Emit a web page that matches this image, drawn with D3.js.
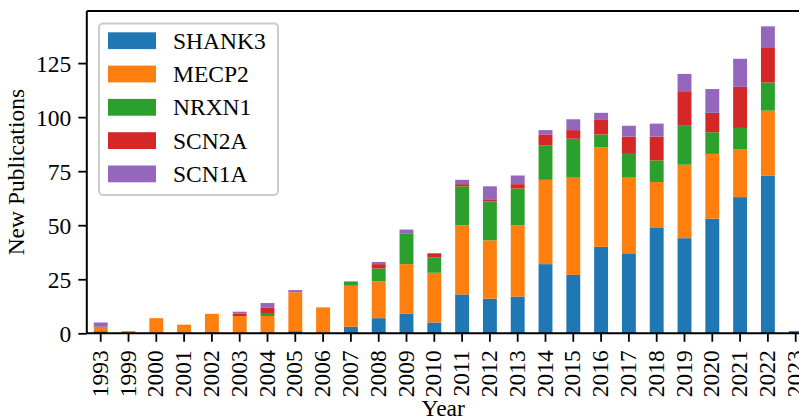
<!DOCTYPE html>
<html>
<head>
<meta charset="utf-8">
<script src="https://cdn.jsdelivr.net/npm/d3@7"></script>
<style>
  html, body { margin: 0; padding: 0; background: #ffffff; }
  svg { display: block; }
  text { font-family: "Liberation Serif", "DejaVu Serif", serif; fill: #000; }
</style>
</head>
<body>
<svg id="chart" width="799" height="419"></svg>
<script>
// Publications per year, stacked by gene
const years = ["1993","1999","2000","2001","2002","2003","2004","2005","2006","2007","2008","2009","2010",
               "2011","2012","2013","2014","2015","2016","2017","2018","2019","2020","2021","2022","2023"];
const genes = ["SHANK3", "MECP2", "NRXN1", "SCN2A", "SCN1A"];
const shank3 = [1,0,0,0,0,0,0,1,0,3,7,9,5,18,16,17,32,27,40,37,49,44,53,63,73,1];
const mecp2  = [2,1,7,4,9,8,8,18,12,19,17,23,23,32,27,33,39,45,46,35,21,34,30,22,30,0];
const nrxn1  = [0,0,0,0,0,0,1,0,0,2,6,14,7,18,18,17,16,18,6,11,10,18,10,10,13,0];
const scn2a  = [0,0,0,0,0,1,3,0,0,0,2,0,2,1,1,2,5,4,7,8,11,16,9,19,16,0];
const scn1a  = [2,0,0,0,0,1,2,1,0,0,1,2,0,2,6,4,2,5,3,5,6,8,11,13,10,0];
const yTicks = [0, 25, 50, 75, 100, 125];
const colors = ["#1f77b4", "#ff7f0e", "#2ca02c", "#d62728", "#9467bd"];

const seriesValues = [shank3, mecp2, nrxn1, scn2a, scn1a];
const rows = years.map((yr, i) => {
  const r = { year: yr };
  genes.forEach((g, k) => { r[g] = seriesValues[k][i]; });
  return r;
});

const svg = d3.select("#chart");
const plotLeft = 86.8, plotRight = 809.6, plotTop = 11, plotBottom = 333.3;
const fontSize = 23.5;

const totals = rows.map(r => d3.sum(genes, g => r[g]));
const yMax = d3.max(totals) * 1.05;

const x = d3.scaleBand().domain(years).range([plotLeft, plotRight])
  .paddingInner(0.5).paddingOuter(0.25);
const y = d3.scaleLinear().domain([0, yMax]).range([plotBottom, plotTop]);
const color = d3.scaleOrdinal().domain(genes).range(colors);

const stacked = d3.stack().keys(genes)(rows);

// Stacked bars
svg.append("g").selectAll("g")
  .data(stacked)
  .join("g")
  .attr("fill", d => color(d.key))
  .selectAll("rect")
  .data(d => d)
  .join("rect")
  .attr("x", d => x(d.data.year))
  .attr("width", x.bandwidth())
  .attr("y", d => y(d[1]))
  .attr("height", d => Math.max(0, y(d[0]) - y(d[1])));

// Axes
const xAxis = d3.axisBottom(x).tickSizeOuter(0).tickSize(8.5).tickPadding(0);
const gx = svg.append("g").attr("transform", `translate(0,${plotBottom})`).call(xAxis);
gx.select(".domain").remove();
gx.selectAll(".tick line").attr("stroke", "#000").attr("stroke-width", 1.8);
gx.selectAll(".tick text")
  .attr("font-size", fontSize)
  .attr("font-family", "Liberation Serif, DejaVu Serif, serif")
  .attr("text-anchor", "end")
  .attr("dy", null)
  .attr("x", 0).attr("y", 0)
  .attr("transform", "translate(7,17) rotate(-90)");

const yAxis = d3.axisLeft(y).tickValues(yTicks).tickSize(8.5).tickPadding(7);
const gy = svg.append("g").attr("transform", `translate(${plotLeft},0)`).call(yAxis);
gy.select(".domain").remove();
gy.selectAll(".tick line").attr("stroke", "#000").attr("stroke-width", 1.8);
gy.selectAll(".tick text")
  .attr("font-size", fontSize)
  .attr("font-family", "Liberation Serif, DejaVu Serif, serif")
  .attr("dy", "0.34em");

// Frame (spines)
const spine = svg.append("g").attr("stroke", "#000").attr("stroke-width", 2).attr("fill", "none");
spine.append("line").attr("x1", plotLeft).attr("x2", plotLeft).attr("y1", plotTop).attr("y2", plotBottom);
spine.append("line").attr("x1", plotLeft).attr("x2", plotRight).attr("y1", plotBottom).attr("y2", plotBottom);
spine.append("line").attr("x1", plotLeft).attr("x2", plotRight).attr("y1", plotTop).attr("y2", plotTop);
spine.append("line").attr("x1", plotRight).attr("x2", plotRight).attr("y1", plotTop).attr("y2", plotBottom);

// Axis titles
svg.append("text")
  .attr("x", (plotLeft + plotRight) / 2 - 5)
  .attr("y", 416)
  .attr("text-anchor", "middle")
  .attr("font-size", fontSize)
  .text("Year");

svg.append("text")
  .attr("transform", `translate(24,${(plotTop + plotBottom) / 2}) rotate(-90)`)
  .attr("text-anchor", "middle")
  .attr("font-size", fontSize)
  .text("New Publications");

// Legend
const legend = svg.append("g");
legend.append("rect")
  .attr("x", 99).attr("y", 23.5)
  .attr("width", 179).attr("height", 171.5)
  .attr("rx", 4).attr("ry", 4)
  .attr("fill", "#ffffff").attr("fill-opacity", 0.8)
  .attr("stroke", "#cccccc").attr("stroke-width", 2);

const item = legend.selectAll("g.item")
  .data(genes)
  .join("g")
  .attr("class", "item")
  .attr("transform", (d, i) => `translate(0,${40.7 + i * 33.3})`);
item.append("rect")
  .attr("x", 108).attr("y", -8.4)
  .attr("width", 48).attr("height", 16.8)
  .attr("fill", d => color(d));
item.append("text")
  .attr("x", 173).attr("y", 8)
  .attr("font-size", fontSize)
  .text(d => d);
</script>
</body>
</html>
